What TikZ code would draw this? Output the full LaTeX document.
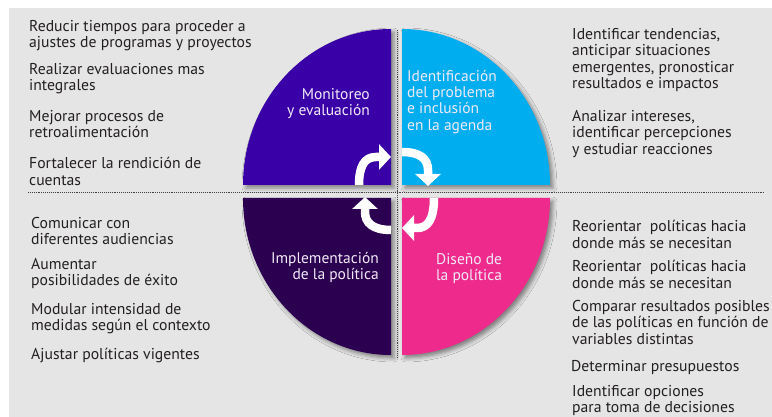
\documentclass[tikz,border=0pt]{standalone}
\usepackage{fontspec}
\setmainfont{PT Sans}
\usetikzlibrary{arrows.meta,shadows.blur}
\definecolor{bggray}{HTML}{E5E5E5}
\definecolor{qviolet}{RGB}{58,0,167}
\definecolor{qcyan}{HTML}{00AEEF}
\definecolor{qdark}{RGB}{44,0,80}
\definecolor{qpink}{HTML}{EE2A8C}
\definecolor{txt}{HTML}{231F20}
\definecolor{lbl}{HTML}{F0EAF7}
\tikzset{
  quad/.style={draw=none, blur shadow={shadow xshift=3pt, shadow yshift=-3pt, shadow blur radius=4pt, shadow opacity=45}},
  item/.style={anchor=north west, inner sep=0pt, align=left, text=txt, font=\fontsize{15.7}{16.5}\selectfont},
  qlabel/.style={inner sep=0pt, text=lbl, font=\fontsize{15.5}{16.3}\selectfont},
  cyc/.style={draw=white, line width=8.5pt, -{Triangle[length=12pt,width=25pt]}},
  sep/.style={draw=black!75, line width=0.9pt, densely dotted}
}
\begin{document}
\begin{tikzpicture}[x=1pt,y=-1pt]
\useasboundingbox (0,0) rectangle (772,417);
\fill[white] (0,0) rectangle (772,417);
\fill[bggray] (9,8) rectangle (772,417);
% quadrants
\fill[qviolet,quad] (391,185) -- (243,185) arc[start angle=180,end angle=270,x radius=148,y radius=156] -- cycle;
\fill[qcyan,quad] (402,185) -- (550,185) arc[start angle=0,end angle=-90,x radius=148,y radius=156] -- cycle;
\fill[qdark,quad] (391,198) -- (243,198) arc[start angle=180,end angle=90,x radius=148,y radius=157] -- cycle;
\fill[qpink,quad] (402,198) -- (550,198) arc[start angle=0,end angle=90,x radius=148,y radius=157] -- cycle;
% separators
\coordinate (hl) at (28,192);
\coordinate (hr) at (764,192);
\coordinate (vt) at (397,30);
\coordinate (vb) at (397,357);
\draw[sep] (hl) -- (hr);
\draw[sep] (vt) -- (vb);
% cycle arrows
\coordinate (a1s) at (359,185); \coordinate (a1e) at (391,157);
\coordinate (a2s) at (402,152); \coordinate (a2e) at (428,186);
\coordinate (a3s) at (434,198); \coordinate (a3e) at (402,228);
\coordinate (a4s) at (391,230); \coordinate (a4e) at (365,197);
\draw[cyc] (a1s) .. controls (359,167) and (364,157) .. (376,157) -- (a1e);
\draw[cyc] (a2s) .. controls (419,152) and (428,158) .. (428,170) -- (a2e);
\draw[cyc] (a3s) .. controls (434,219) and (428,228) .. (417,228) -- (a3e);
\draw[cyc] (a4s) .. controls (373,230) and (365,223) .. (365,212) -- (a4e);
% quadrant labels
\node[qlabel, anchor=north east, align=right] (lmon) at (370,88) {Monitoreo\\y evaluación};
\node[qlabel, anchor=north west, align=left] (lide) at (407,70) {Identificación\\del problema\\e inclusión\\en la agenda};
\node[qlabel, anchor=north east, align=right] (limp) at (379,252) {Implementación\\de la política};
\node[qlabel, anchor=north west, align=left] (ldis) at (436,253) {Diseño de\\la política};
% left top items
\node[item] (m1) at (29,20) {Reducir tiempos para proceder a\\ajustes de programas y proyectos};
\node[item] (m2) at (29,63) {Realizar evaluaciones mas\\integrales};
\node[item] (m3) at (29,110) {Mejorar procesos de\\retroalimentación};
\node[item] (m4) at (29,157) {Fortalecer la rendición de\\cuentas};
% left bottom items
\node[item] (i1) at (31,217) {Comunicar con\\diferentes audiencias};
\node[item] (i2) at (31,258) {Aumentar\\posibilidades de éxito};
\node[item] (i3) at (31,303) {Modular intensidad de\\medidas según el contexto};
\node[item] (i4) at (31,348) {Ajustar políticas vigentes};
% right top items
\node[item] (p1) at (572,28) {Identificar tendencias,\\anticipar situaciones\\emergentes, pronosticar\\resultados e impactos};
\node[item] (p2) at (572,110) {Analizar intereses,\\identificar percepciones\\y estudiar reacciones};
% right bottom items
\node[item] (d1) at (572,220) {Reorientar\ \ políticas hacia\\donde más se necesitan};
\node[item] (d2) at (572,260) {Reorientar\ \ políticas hacia\\donde más se necesitan};
\node[item] (d3) at (572,300) {Comparar resultados posibles\\de las políticas en función de\\variables distintas};
\node[item] (d4) at (571,360) {Determinar presupuestos};
\node[item] (d5) at (572,385) {Identificar opciones\\para toma de decisiones};
\end{tikzpicture}
\end{document}
